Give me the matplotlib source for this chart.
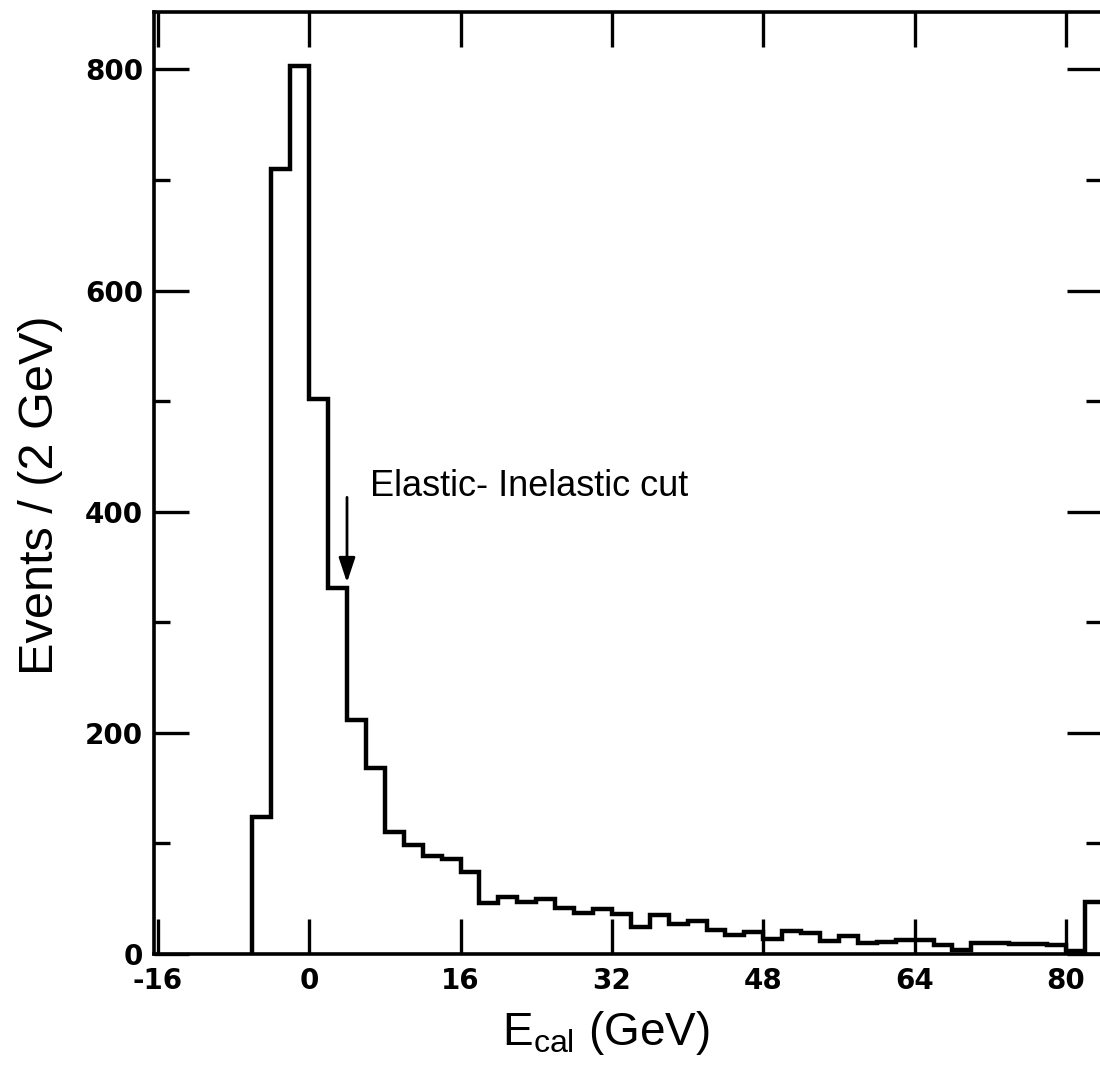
import numpy as np
import matplotlib
matplotlib.use("Agg")
import matplotlib.pyplot as plt

# calorimeter energy histogram, 2 GeV bins starting at -6 GeV
bin_start = -6
bin_width = 2
counts = [124, 710, 803, 502, 331, 212, 168, 110, 99, 89, 86, 74,
          46, 52, 47, 50, 42, 37, 41, 36, 24, 35, 27, 30, 22, 17,
          20, 14, 21, 19, 12, 16, 10, 11, 13, 13, 8, 4, 10, 10,
          9, 9, 8, 3, 47]
x_ticks = [-16, 0, 16, 32, 48, 64, 80]
y_ticks = [0, 200, 400, 600, 800]
cut_energy = 4
cut_label = "Elastic- Inelastic cut"

edges = bin_start + bin_width * np.arange(len(counts) + 1)

thin = ["Liberation Sans", "DejaVu Sans"]
plt.rcParams["mathtext.fontset"] = "custom"
plt.rcParams["mathtext.rm"] = "Liberation Sans"
plt.rcParams["mathtext.it"] = "Liberation Sans"

fig = plt.figure(figsize=(11, 10.73), dpi=100)
ax = fig.add_axes([0.14, 0.1109, 0.8618, 0.878])

ax.stairs(counts, edges, baseline=0, color="k", lw=3.2, clip_on=True)

ax.set_xlim(-16.4, 83.8)
ax.set_ylim(0, 852)

ax.set_xticks(x_ticks)
ax.set_xticklabels([str(v) for v in x_ticks])
ax.set_yticks(y_ticks)
ax.set_yticks(np.arange(100, 852, 200), minor=True)

ax.tick_params(axis="both", which="major", direction="in", length=25,
               width=2.4, top=True, right=True, labelsize=20)
ax.tick_params(axis="y", which="minor", direction="in", length=11.5,
               width=2.4, left=True, right=True)
ax.tick_params(axis="x", pad=9)
ax.tick_params(axis="y", pad=8)
for lab in ax.get_xticklabels() + ax.get_yticklabels():
    lab.set_family("DejaVu Sans")
    lab.set_fontweight("bold")

for sp in ax.spines.values():
    sp.set_linewidth(2.6)

# arrow marking the elastic / inelastic cut
ax.annotate("", xy=(cut_energy, 336), xytext=(cut_energy, 413),
            arrowprops=dict(arrowstyle="-|>,head_length=1.5,head_width=0.5",
                            color="k", lw=2, shrinkA=0, shrinkB=0))
ax.text(6.4, 414, cut_label, family=thin, fontsize=26, va="baseline")

fig.text(0.0364, 0.5387, "Events / (2 GeV)", family=thin, fontsize=35,
         rotation=90, ha="center", va="center")
fig.text(0.4564, 0.026, r"E$_{\mathrm{cal}}$ (GeV)", family=thin,
         fontsize=33, ha="left", va="baseline")

fig.savefig("out.png", dpi=100)
